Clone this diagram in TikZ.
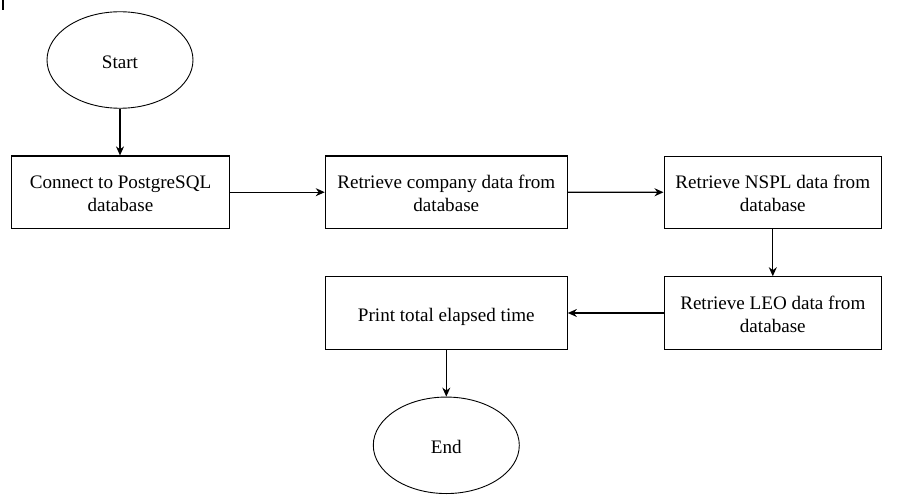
\documentclass[tikz,border=0pt]{standalone}
\usepackage{fontspec}
\setmainfont{Liberation Serif}
\usetikzlibrary{arrows.meta,shapes.geometric}
\begin{document}
\begin{tikzpicture}[x=1pt,y=-1pt,
  proc/.style={draw, line width=1.1pt, rectangle, minimum height=72.5pt, align=center,
    font=\fontsize{19.1}{23}\selectfont, inner sep=0pt, text height=38pt, text depth=0pt},
  oneline/.style={text height=17pt, text depth=1pt},
  term/.style={draw, ellipse, line width=0.9pt, minimum width=146pt, minimum height=96.5pt,
    font=\fontsize{19.1}{23}\selectfont, inner sep=0pt, text height=17pt, text depth=0pt},
  conn/.style={-{Stealth[length=9pt,width=8pt]}, line width=1.1pt}]
\useasboundingbox (0,0) rectangle (900,503);
\draw[line width=2pt] (2.5,0) -- (2.5,10);
\node[term] (start) at (120,60) {Start};
\node[proc, minimum width=217.5pt] (b1) at (120.5,192.2) {Connect to PostgreSQL\\database};
\node[proc, minimum width=242pt] (b2) at (446.3,192.2) {Retrieve company data from\\database};
\node[proc, minimum width=217.5pt] (b3) at (772.8,192.3) {Retrieve NSPL data from\\database};
\node[proc, minimum width=217.5pt] (b4) at (772.8,313) {Retrieve LEO data from\\database};
\node[proc, oneline, minimum width=242pt] (b5) at (446.3,313) {Print total elapsed time};
\node[term] (end) at (446.3,445.3) {End};
\draw[conn] (start) -- (start |- b1.north);
\draw[conn] (b1) -- (b2);
\draw[conn] (b2) -- (b3);
\draw[conn] (b3) -- (b4);
\draw[conn] (b4) -- (b5);
\draw[conn] (b5) -- (end);
\end{tikzpicture}
\end{document}
